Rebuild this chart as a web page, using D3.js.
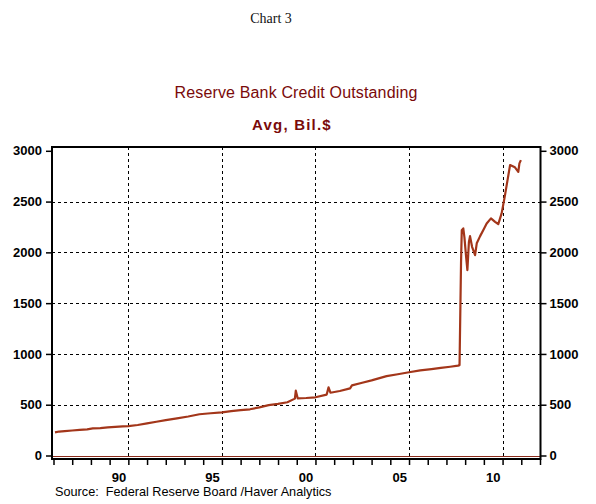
<!DOCTYPE html>
<html>
<head>
<meta charset="utf-8">
<script src="https://cdn.jsdelivr.net/npm/d3@7"></script>
<style>
  body { margin: 0; background: #fff; }
  svg { display: block; }
</style>
</head>
<body>
<script>
// Reserve Bank Credit Outstanding, Avg, Bil.$
const years = [
  1987.08, 1987.3, 1987.6, 1988.0, 1988.4, 1988.8, 1989.1, 1989.5, 1989.9, 1990.3,
  1990.7, 1991.0, 1991.5, 1992.0, 1992.5, 1993.0, 1993.6, 1994.2, 1994.8, 1995.4,
  1996.0, 1996.5, 1997.0, 1997.5, 1998.0, 1998.5, 1999.0, 1999.5, 1999.9, 1999.95,
  2000.05, 2000.5, 2001.0, 2001.6, 2001.7, 2001.8, 2002.3, 2002.85, 2002.95, 2003.5,
  2004.0, 2004.8, 2005.4, 2006.0, 2006.6, 2007.2, 2007.7, 2008.2, 2008.62, 2008.7,
  2008.78, 2008.82, 2008.9, 2008.96, 2009.05, 2009.12, 2009.2, 2009.26, 2009.37, 2009.53,
  2009.62, 2009.8, 2010.0, 2010.15, 2010.38, 2010.6, 2010.77, 2010.95, 2011.13, 2011.4,
  2011.66, 2011.84, 2011.9, 2011.98
]
const values = [
  228, 236, 240, 246, 252, 258, 267, 270, 276, 282,
  286, 290, 300, 316, 332, 348, 366, 384, 406, 416,
  425, 436, 446, 455, 474, 496, 508, 524, 560, 638,
  563, 566, 573, 600, 671, 618, 635, 661, 690, 716,
  740, 782, 800, 820, 838, 850, 862, 874, 885, 890,
  1900, 2219, 2236, 2150, 1957, 1826, 2100, 2160, 2055, 1973,
  2089, 2160, 2230, 2285, 2335, 2301, 2278, 2384, 2564, 2859,
  2837, 2793, 2876, 2908
]
const yTicks = [0, 500, 1000, 1500, 2000, 2500, 3000]
const yGrid = [500, 1000, 1500, 2000, 2500]
const xGrid = [1991, 1996, 2001, 2006, 2011]
const xLabels = [
  {year: 1990, text: '90'}, {year: 1995, text: '95'}, {year: 2000, text: '00'},
  {year: 2005, text: '05'}, {year: 2010, text: '10'}
]

const W = 596, H = 504
const plotL = 52, plotR = 540.5, plotT = 147, plotB = 459

const svg = d3.select('body').append('svg')
  .attr('width', W).attr('height', H)

const x = d3.scaleLinear().domain([1987, 2013]).range([53.5, 540])
const y = d3.scaleLinear().domain([0, 3000]).range([455.5, 150.8])

// Titles
svg.append('text')
  .attr('x', 271).attr('y', 23)
  .attr('text-anchor', 'middle')
  .style('font', '14px "Liberation Serif", serif')
  .style('fill', '#111')
  .text('Chart 3')

svg.append('text')
  .attr('x', 296).attr('y', 98)
  .attr('text-anchor', 'middle')
  .style('font', '16px "Liberation Sans", Arial, sans-serif')
  .style('letter-spacing', '0.15px')
  .style('fill', '#7a0a0a')
  .text('Reserve Bank Credit Outstanding')

svg.append('text')
  .attr('x', 292).attr('y', 130)
  .attr('text-anchor', 'middle')
  .style('font', 'bold 15px "Liberation Sans", Arial, sans-serif')
  .style('letter-spacing', '1.2px')
  .style('fill', '#7a0a0a')
  .text('Avg, Bil.$')

// Grid lines
svg.append('g').selectAll('line').data(yGrid).join('line')
  .attr('x1', plotL).attr('x2', plotR)
  .attr('y1', d => Math.round(y(d)) + 0.5).attr('y2', d => Math.round(y(d)) + 0.5)
  .style('stroke', '#000').style('stroke-width', 1).style('stroke-dasharray', '3,3')

svg.append('g').selectAll('line').data(xGrid).join('line')
  .attr('x1', d => Math.round(x(d)) + 0.5).attr('x2', d => Math.round(x(d)) + 0.5)
  .attr('y1', plotT).attr('y2', plotB)
  .style('stroke', '#000').style('stroke-width', 1).style('stroke-dasharray', '3,3')

// Zero line
svg.append('line')
  .attr('x1', plotL).attr('x2', plotR)
  .attr('y1', Math.round(y(0)) + 0.5).attr('y2', Math.round(y(0)) + 0.5)
  .style('stroke', '#8b2a1a').style('stroke-width', 1)

// Series
const pts = years.map((d, i) => [d, values[i]])
const line = d3.line().x(d => x(d[0])).y(d => y(d[1]))
svg.append('path')
  .attr('d', line(pts))
  .style('fill', 'none')
  .style('stroke', '#a3361a').style('stroke-width', 2.2)
  .style('stroke-linejoin', 'round')

// Frame
svg.append('rect')
  .attr('x', plotL).attr('y', plotT)
  .attr('width', plotR - plotL).attr('height', plotB - plotT)
  .style('fill', 'none').style('stroke', '#000').style('stroke-width', 2)

// Axes
const axisFont = 'bold 13px "Liberation Sans", Arial, sans-serif'

const yLeft = svg.append('g')
  .attr('transform', `translate(${plotL},0)`)
  .call(d3.axisLeft(y).tickValues(yTicks).tickFormat(d3.format('d')).tickSize(6).tickPadding(4))
const yRight = svg.append('g')
  .attr('transform', `translate(${plotR},0)`)
  .call(d3.axisRight(y).tickValues(yTicks).tickFormat(d3.format('d')).tickSize(6).tickPadding(3))
const xAxis = svg.append('g')
  .attr('transform', `translate(0,${plotB})`)
  .call(d3.axisBottom(x).tickValues(d3.range(1987, 2014)).tickSize(6).tickFormat(''))

for (const g of [yLeft, yRight, xAxis]) {
  g.select('.domain').remove()
  g.selectAll('line').style('stroke', '#000').style('stroke-width', 1.5)
  g.selectAll('text').style('font', axisFont).style('fill', '#000')
}

svg.append('g').selectAll('text').data(xLabels).join('text')
  .attr('x', d => x(d.year + 0.5)).attr('y', 482)
  .attr('text-anchor', 'middle')
  .style('font', axisFont).style('fill', '#000')
  .text(d => d.text)

svg.append('text')
  .attr('x', 55).attr('y', 496)
  .style('font', '12.7px "Liberation Sans", Arial, sans-serif')
  .style('fill', '#000')
  .attr('xml:space', 'preserve')
  .text('Source:  Federal Reserve Board /Haver Analytics')
</script>
</body>
</html>
